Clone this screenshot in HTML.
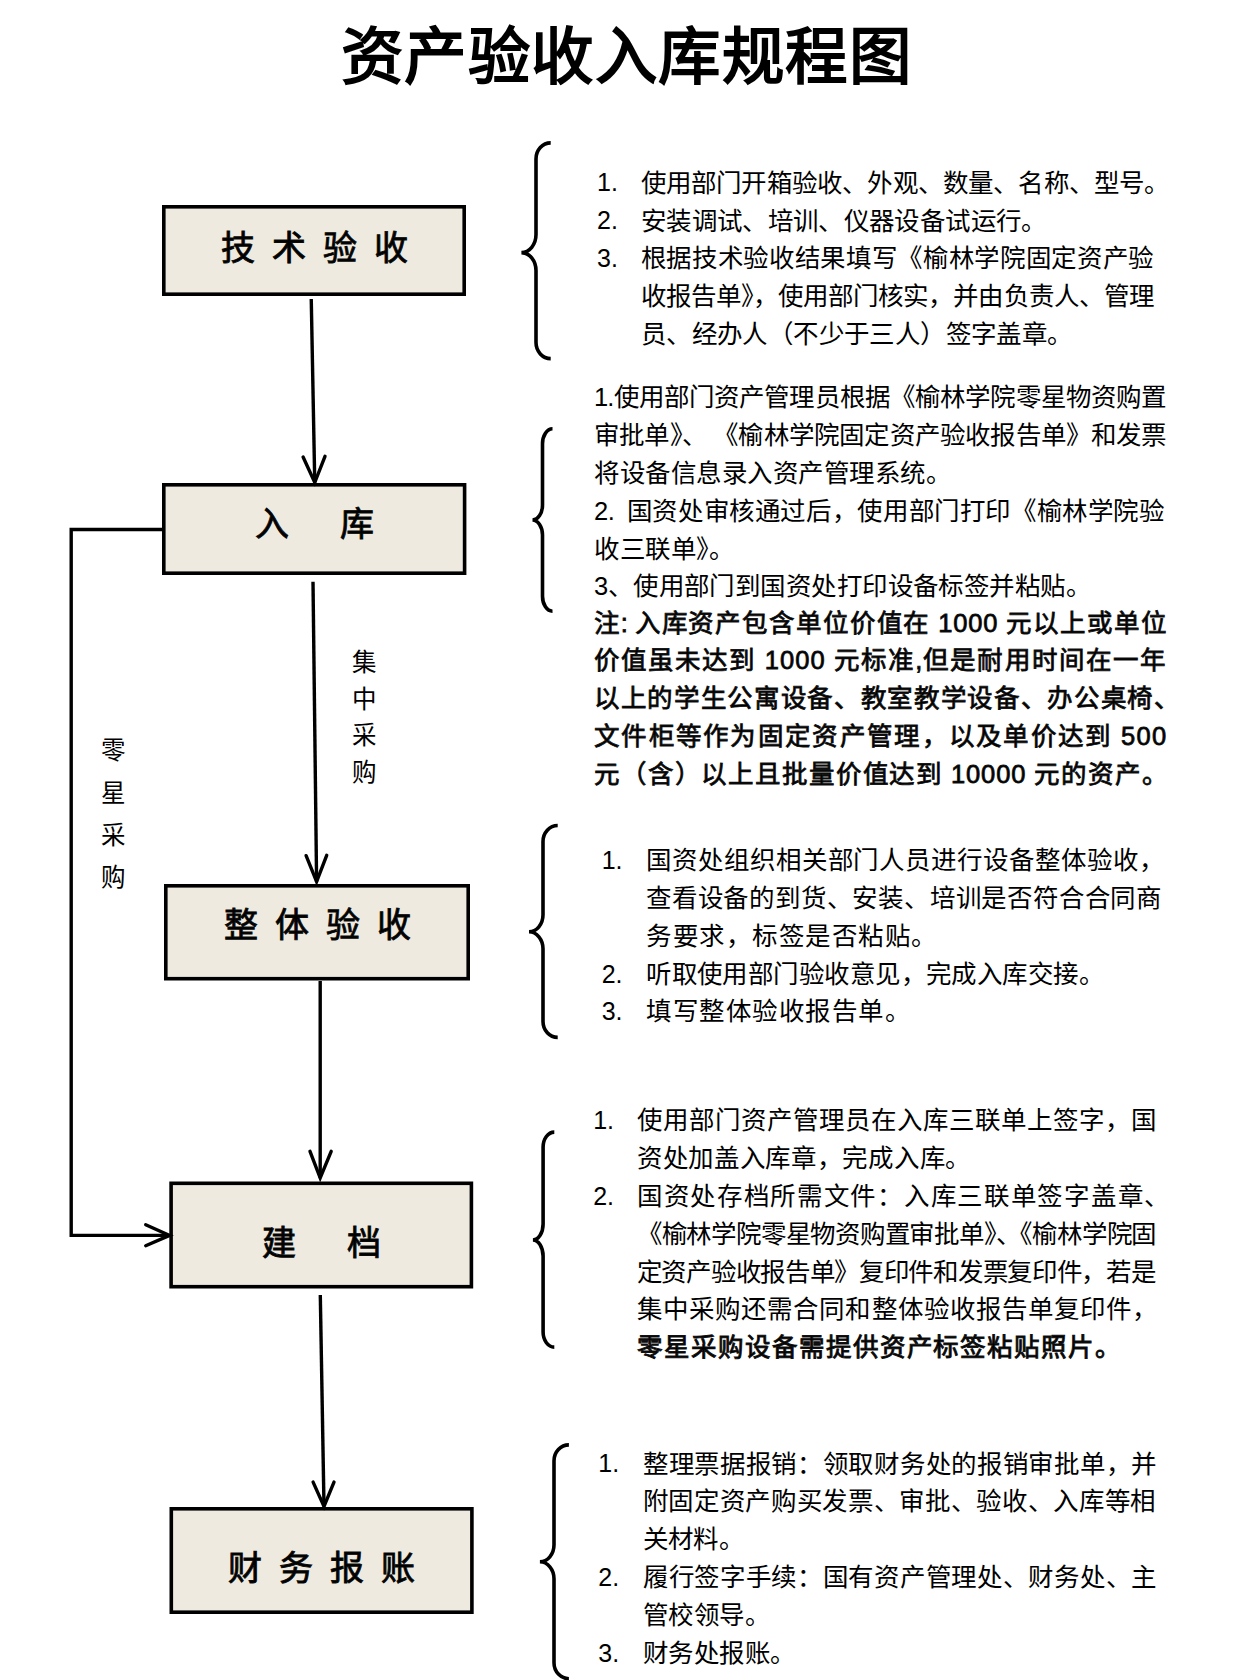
<!DOCTYPE html>
<html lang="zh-CN">
<head>
<meta charset="utf-8">
<title>资产验收入库规程图</title>
<style>
html,body{margin:0;padding:0;background:#ffffff;}
body{width:1260px;height:1680px;position:relative;overflow:hidden;font-family:"Liberation Sans",sans-serif;color:#000;}
.sh{position:absolute;left:0;top:0;}
.bx{fill:#EEEAE0;stroke:#000;stroke-width:3.6;}
.ln{fill:none;stroke:#000;stroke-width:3.4;stroke-linecap:butt;stroke-linejoin:miter;}
.ah{fill:none;stroke:#000;stroke-width:3.4;stroke-linecap:round;stroke-linejoin:miter;stroke-miterlimit:10;}
.br{fill:none;stroke:#000;stroke-width:3.6;stroke-linecap:butt;}
.t{position:absolute;font-size:25px;line-height:25px;white-space:nowrap;text-spacing-trim:space-first;}
.title{position:absolute;left:340.5px;top:25.5px;font-size:62.5px;line-height:62.5px;letter-spacing:0.5px;font-weight:700;white-space:nowrap;color:#000;}
.lab{position:absolute;font-size:34px;line-height:34px;white-space:nowrap;font-weight:400;-webkit-text-stroke:0.9px #0a0a0a;}
.vl{position:absolute;font-size:24.5px;line-height:24.5px;width:26px;white-space:nowrap;}
</style>
</head>
<body>
<svg class="sh" width="1260" height="1680" viewBox="0 0 1260 1680">
<rect class="bx" x="163.80" y="206.80" width="300.40" height="87.40"/>
<rect class="bx" x="163.80" y="484.80" width="300.80" height="88.40"/>
<rect class="bx" x="165.80" y="885.80" width="302.40" height="92.90"/>
<rect class="bx" x="171.10" y="1183.30" width="300.30" height="103.40"/>
<rect class="bx" x="171.30" y="1508.80" width="300.60" height="103.40"/>
<path class="ln" d="M311.25 299 L314.75 482.5"/><path class="ah" d="M303.1 457 L314.75 482.5 L325 456.3"/>
<path class="ln" d="M313 581.8 L316.6 881.6"/><path class="ah" d="M306.1 855.7 L316.6 881.6 L326.7 855.3"/>
<path class="ln" d="M320.2 981 L320.2 1178"/><path class="ah" d="M310 1151.3 L320.2 1178 L331.2 1151.3"/>
<path class="ln" d="M320.3 1295 L324 1506.4"/><path class="ah" d="M313.1 1482.1 L324 1506.4 L334 1482.1"/>
<path class="ln" d="M164 529.5 L71.2 529.5 L71.2 1235.4 L168 1235.4"/>
<path class="ah" d="M145.7 1224.7 L169.6 1235.4 L145.7 1245.7"/>
<path class="br" d="M550.70 142.90 C542.58 142.90 536.00 150.06 536.00 158.90 L536.00 234.60 C536.00 244.54 529.46 252.60 521.40 252.60 C529.46 252.60 536.00 260.66 536.00 270.60 L536.00 342.60 C536.00 351.44 542.58 358.60 550.70 358.60"/>
<path class="br" d="M552.50 428.75 C546.98 428.75 542.50 435.47 542.50 443.75 L542.50 505.00 C542.50 513.28 538.02 520.00 532.50 520.00 C538.02 520.00 542.50 526.72 542.50 535.00 L542.50 596.25 C542.50 604.53 546.98 611.25 552.50 611.25"/>
<path class="br" d="M557.70 825.50 C549.58 825.50 543.00 832.66 543.00 841.50 L543.00 914.80 C543.00 924.19 536.73 931.80 529.00 931.80 C536.73 931.80 543.00 939.41 543.00 948.80 L543.00 1021.40 C543.00 1030.24 549.58 1037.40 557.70 1037.40"/>
<path class="br" d="M554.30 1132.10 C548.11 1132.10 543.10 1138.82 543.10 1147.10 L543.10 1224.00 C543.10 1232.84 538.53 1240.00 532.90 1240.00 C538.53 1240.00 543.10 1247.16 543.10 1256.00 L543.10 1332.10 C543.10 1340.38 548.11 1347.10 554.30 1347.10"/>
<path class="br" d="M568.90 1444.90 C560.67 1444.90 554.00 1452.06 554.00 1460.90 L554.00 1544.80 C554.00 1554.19 547.69 1561.80 539.90 1561.80 C547.69 1561.80 554.00 1569.41 554.00 1578.80 L554.00 1662.70 C554.00 1671.54 560.67 1678.70 568.90 1678.70"/>
</svg>
<div class="title">资产验收入库规程图</div>
<div class="lab" style="left:221.3px;top:230.5px;letter-spacing:17.03px">技术验收</div>
<div class="lab" style="left:255.2px;top:506.6px;letter-spacing:50.4px">入库</div>
<div class="lab" style="left:223.6px;top:908.3px;letter-spacing:17.1px">整体验收</div>
<div class="lab" style="left:261.8px;top:1225.7px;letter-spacing:51.3px">建档</div>
<div class="lab" style="left:227.6px;top:1551.2px;letter-spacing:17.2px">财务报账</div>
<div class="vl" style="left:351.5px;top:651.1px">集</div>
<div class="vl" style="left:351.5px;top:687.7px">中</div>
<div class="vl" style="left:351.5px;top:724.3px">采</div>
<div class="vl" style="left:351.5px;top:760.9px">购</div>
<div class="vl" style="left:101px;top:739.4px">零</div>
<div class="vl" style="left:101px;top:781.5px">星</div>
<div class="vl" style="left:101px;top:823.6px">采</div>
<div class="vl" style="left:101px;top:865.7px">购</div>
<div class="t" id="L0" style="left:640.80px;top:171.00px;font-size:25.5px;line-height:25.5px;letter-spacing:-0.825px">使用部门开箱验收、外观、数量、名称、型号。</div>
<div class="t" id="L1" style="left:640.80px;top:208.70px;font-size:25.5px;line-height:25.5px;letter-spacing:-0.633px">安装调试、培训、仪器设备试运行。</div>
<div class="t" id="L2" style="left:640.80px;top:246.40px;font-size:25.5px;line-height:25.5px;letter-spacing:-0.342px">根据技术验收结果填写《榆林学院固定资产验</div>
<div class="t" id="L3" style="left:640.80px;top:284.10px;font-size:25.5px;line-height:25.5px;letter-spacing:-0.950px">收报告单》，使用部门核实，并由负责人、管理</div>
<div class="t" id="L4" style="left:640.80px;top:321.80px;font-size:25.5px;line-height:25.5px;letter-spacing:-0.594px">员、经办人（不少于三人）签字盖章。</div>
<div class="t" id="L5" style="left:594.00px;top:385.30px;font-size:25.5px;line-height:25.5px;letter-spacing:-0.870px">1.使用部门资产管理员根据《榆林学院零星物资购置</div>
<div class="t" id="L6" style="left:594.00px;top:423.10px;font-size:25.5px;line-height:25.5px;letter-spacing:-0.809px">审批单》、 《榆林学院固定资产验收报告单》和发票</div>
<div class="t" id="L7" style="left:594.00px;top:460.90px;font-size:25.5px;line-height:25.5px;letter-spacing:-0.500px">将设备信息录入资产管理系统。</div>
<div class="t" id="L8" style="left:594.00px;top:498.70px;font-size:25.5px;line-height:25.5px;letter-spacing:-0.391px">2. 国资处审核通过后，使用部门打印《榆林学院验</div>
<div class="t" id="L9" style="left:594.00px;top:536.50px;font-size:25.5px;line-height:25.5px;letter-spacing:-0.500px">收三联单》。</div>
<div class="t" id="L10" style="left:594.00px;top:574.30px;font-size:25.5px;line-height:25.5px;letter-spacing:-0.553px">3、使用部门到国资处打印设备标签并粘贴。</div>
<div class="t" id="L11" style="left:594.00px;top:610.60px;font-size:25.5px;line-height:25.5px;-webkit-text-stroke:0.8px #111;letter-spacing:0.860px">注: 入库资产包含单位价值在 1000 元以上或单位</div>
<div class="t" id="L12" style="left:594.00px;top:648.40px;font-size:25.5px;line-height:25.5px;-webkit-text-stroke:0.8px #111;letter-spacing:1.083px">价值虽未达到 1000 元标准,但是耐用时间在一年</div>
<div class="t" id="L13" style="left:594.00px;top:686.20px;font-size:25.5px;line-height:25.5px;-webkit-text-stroke:0.8px #111;letter-spacing:0.667px">以上的学生公寓设备、教室教学设备、办公桌椅、</div>
<div class="t" id="L14" style="left:594.00px;top:724.00px;font-size:25.5px;line-height:25.5px;-webkit-text-stroke:0.8px #111;letter-spacing:1.295px">文件柜等作为固定资产管理，以及单价达到 500</div>
<div class="t" id="L15" style="left:594.00px;top:761.80px;font-size:25.5px;line-height:25.5px;-webkit-text-stroke:0.8px #111;letter-spacing:0.854px">元（含）以上且批量价值达到 10000 元的资产。</div>
<div class="t" id="L16" style="left:646.10px;top:847.80px;font-size:25.5px;line-height:25.5px;letter-spacing:-0.079px">国资处组织相关部门人员进行设备整体验收，</div>
<div class="t" id="L17" style="left:646.10px;top:885.70px;font-size:25.5px;line-height:25.5px;letter-spacing:-0.211px">查看设备的到货、安装、培训是否符合合同商</div>
<div class="t" id="L18" style="left:646.10px;top:923.60px;font-size:25.5px;line-height:25.5px;letter-spacing:0.500px">务要求，标签是否粘贴。</div>
<div class="t" id="L19" style="left:646.10px;top:961.50px;font-size:25.5px;line-height:25.5px;letter-spacing:-0.559px">听取使用部门验收意见，完成入库交接。</div>
<div class="t" id="L20" style="left:646.10px;top:999.40px;font-size:25.5px;line-height:25.5px;letter-spacing:0.500px">填写整体验收报告单。</div>
<div class="t" id="L21" style="left:636.80px;top:1108.30px;font-size:25.5px;line-height:25.5px;letter-spacing:0.026px">使用部门资产管理员在入库三联单上签字，国</div>
<div class="t" id="L22" style="left:636.80px;top:1146.10px;font-size:25.5px;line-height:25.5px;letter-spacing:-0.292px">资处加盖入库章，完成入库。</div>
<div class="t" id="L23" style="left:636.80px;top:1183.90px;font-size:25.5px;line-height:25.5px;letter-spacing:0.711px">国资处存档所需文件：入库三联单签字盖章、</div>
<div class="t" id="L24" style="left:636.80px;top:1221.70px;font-size:25.5px;line-height:25.5px;letter-spacing:-1.214px">《榆林学院零星物资购置审批单》、《榆林学院固</div>
<div class="t" id="L25" style="left:636.80px;top:1259.50px;font-size:25.5px;line-height:25.5px;letter-spacing:-1.300px">定资产验收报告单》复印件和发票复印件，若是</div>
<div class="t" id="L26" style="left:636.80px;top:1297.30px;font-size:25.5px;line-height:25.5px;letter-spacing:0.079px">集中采购还需合同和整体验收报告单复印件，</div>
<div class="t" id="L27" style="left:636.80px;top:1335.10px;font-size:25.5px;line-height:25.5px;-webkit-text-stroke:0.95px #111;letter-spacing:0.971px">零星采购设备需提供资产标签粘贴照片。</div>
<div class="t" id="L28" style="left:642.80px;top:1451.50px;font-size:25.5px;line-height:25.5px;letter-spacing:-0.289px">整理票据报销：领取财务处的报销审批单，并</div>
<div class="t" id="L29" style="left:642.80px;top:1489.46px;font-size:25.5px;line-height:25.5px;letter-spacing:-0.342px">附固定资产购买发票、审批、验收、入库等相</div>
<div class="t" id="L30" style="left:642.80px;top:1527.42px;font-size:25.5px;line-height:25.5px;letter-spacing:-0.667px">关材料。</div>
<div class="t" id="L31" style="left:642.80px;top:1565.38px;font-size:25.5px;line-height:25.5px;letter-spacing:-0.289px">履行签字手续：国有资产管理处、财务处、主</div>
<div class="t" id="L32" style="left:642.80px;top:1603.34px;font-size:25.5px;line-height:25.5px;letter-spacing:-0.500px">管校领导。</div>
<div class="t" id="L33" style="left:642.80px;top:1641.30px;font-size:25.5px;line-height:25.5px;letter-spacing:-0.500px">财务处报账。</div>
<div class="t" style="left:597.00px;top:170.30px">1.</div>
<div class="t" style="left:597.00px;top:208.00px">2.</div>
<div class="t" style="left:597.00px;top:245.70px">3.</div>
<div class="t" style="left:601.70px;top:847.80px">1.</div>
<div class="t" style="left:601.70px;top:961.50px">2.</div>
<div class="t" style="left:601.70px;top:999.40px">3.</div>
<div class="t" style="left:593.20px;top:1107.90px">1.</div>
<div class="t" style="left:593.20px;top:1183.50px">2.</div>
<div class="t" style="left:598.30px;top:1451.00px">1.</div>
<div class="t" style="left:598.30px;top:1564.88px">2.</div>
<div class="t" style="left:598.30px;top:1640.80px">3.</div>
</body>
</html>
